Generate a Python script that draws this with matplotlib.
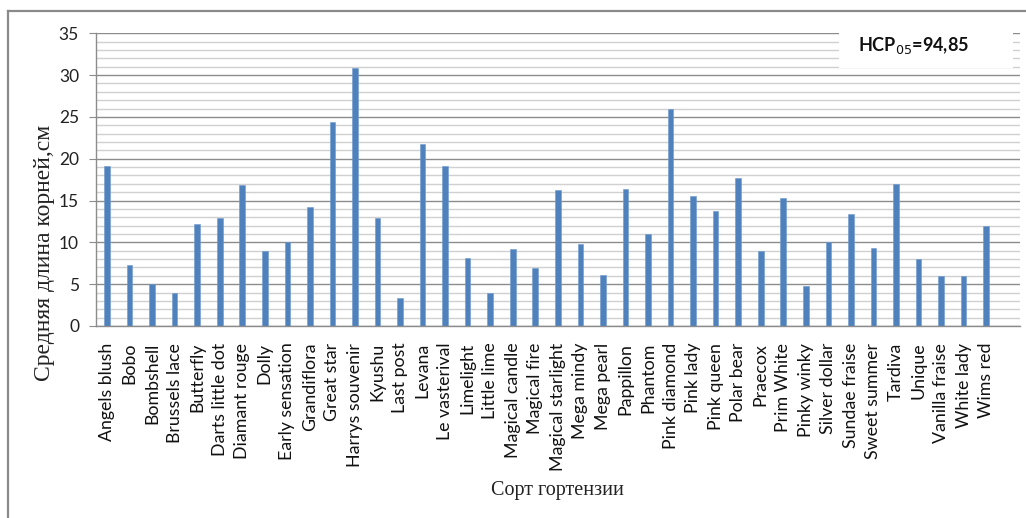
import numpy as np
import matplotlib
matplotlib.use("Agg")
import matplotlib.pyplot as plt
from matplotlib.lines import Line2D
from matplotlib.patches import Rectangle

# hydrangea cultivars and their mean root length, cm
cultivars = [
    "Angels blush", "Bobo", "Bombshell", "Brussels lace", "Butterfly",
    "Darts little dot", "Diamant rouge", "Dolly", "Early sensation", "Grandiflora",
    "Great star", "Harrys souvenir", "Kyushu", "Last post", "Levana",
    "Le vasterival", "Limelight", "Little lime", "Magical candle", "Magical fire",
    "Magical starlight", "Mega mindy", "Mega pearl", "Pappillon", "Phantom",
    "Pink diamond", "Pink lady", "Pink queen", "Polar bear", "Praecox",
    "Prim White", "Pinky winky", "Silver dollar", "Sundae fraise", "Sweet summer",
    "Tardiva", "Unique", "Vanilla fraise", "White lady", "Wims red",
]
root_len = [
    19.1, 7.3, 5.0, 3.9, 12.2,
    12.9, 16.9, 9.0, 10.0, 14.2,
    24.4, 30.9, 12.9, 3.3, 21.8,
    19.1, 8.1, 4.0, 9.2, 6.9,
    16.3, 9.8, 6.1, 16.4, 11.0,
    26.0, 15.6, 13.8, 17.7, 9.0,
    15.3, 4.8, 10.0, 13.4, 9.3,
    17.0, 8.0, 6.0, 6.0, 11.9,
]
y_ticks = [0, 5, 10, 15, 20, 25, 30, 35]
lsd_text = "HCP$_{05}$=94,85"

W, H = 1026, 518
fig = plt.figure(figsize=(W / 100, H / 100), dpi=100)
fig.patch.set_facecolor("white")

# outer chart frame (left + top edges)
fig.add_artist(Line2D([7.5 / W, 7.5 / W], [0, 1 - 10.5 / H], color="#8a8a8a", lw=1.6))
fig.add_artist(Line2D([7.5 / W, 1], [1 - 10.5 / H, 1 - 10.5 / H], color="#8a8a8a", lw=1.6))

ax = fig.add_axes([95.7 / W, 1 - 326 / H, (1020 - 95.7) / W, (326 - 33.3) / H])
x = np.arange(len(cultivars))

# one light gridline per cm, darker every 5 cm
for v in range(0, 36):
    c = "#8c8c8c" if v % 5 == 0 else "#d0d0d0"
    ax.axhline(v, color=c, lw=1.0, zorder=0)

ax.bar(x, root_len, width=0.25, color="#4f81bd", edgecolor="#6f9bd0", lw=0.4, zorder=2)

ax.set_xlim(-0.5, 40.5)
ax.set_ylim(0, 35)
ax.set_yticks(y_ticks)
ax.set_yticklabels([str(t) for t in y_ticks], fontsize=12.5, family="Lato", color="#222222")
ax.tick_params(axis="y", length=5, color="#8c8c8c", pad=7)
ax.set_xticks(x)
ax.set_xticklabels(cultivars, rotation=90, fontsize=12.8, family="Lato", color="#111111")
ax.tick_params(axis="x", length=0, pad=12)

for side in ("top", "right"):
    ax.spines[side].set_visible(False)
for side in ("left", "bottom"):
    ax.spines[side].set_color("#8c8c8c")
    ax.spines[side].set_linewidth(1.0)

# LSD annotation box sitting on top of the grid
fig.add_artist(Rectangle((839 / W, 1 - 68 / H), (1013 - 839) / W, 40 / H,
                         transform=fig.transFigure, facecolor="white", edgecolor="none", zorder=5))
fig.text(914 / W, 1 - 45 / H, lsd_text, ha="center", va="center", fontsize=13,
         family="Lato", weight="bold", color="#111111", zorder=6)

fig.text(45 / W, 1 - 253 / H, "Средняя длина корней,см", rotation=90, ha="center", va="center",
         fontsize=17, family="Liberation Serif", color="#222222")
fig.text(557 / W, 1 - 490 / H, "Сорт гортензии", ha="center", va="center",
         fontsize=14.5, family="Liberation Serif", color="#222222")

fig.savefig("out.png", dpi=100, facecolor="white")
